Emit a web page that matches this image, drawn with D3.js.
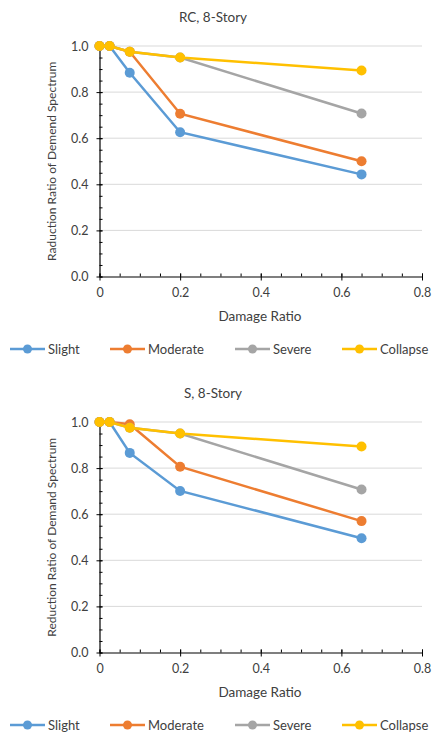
<!DOCTYPE html>
<html>
<head>
<meta charset="utf-8">
<script src="https://cdn.jsdelivr.net/npm/d3@7/dist/d3.min.js"></script>
<style>
  body { margin: 0; background: #fff; }
  text { font-family: Lato, "Open Sans", sans-serif; fill: #404040; }
</style>
</head>
<body>
<div id="chart"></div>
<script>
var w = 432,
	h = 733;

// damage ratio (x)
var damageRatio = [0, 0.025, 0.075, 0.2, 0.65];

var seriesNames = ["Slight", "Moderate", "Severe", "Collapse"];
var seriesColors = ["#5b9bd5", "#ed7d31", "#a5a5a5", "#ffc000"];

// RC, 8-Story
var rcSlight   = [1.0, 1.0, 0.884, 0.626, 0.443];
var rcModerate = [1.0, 1.0, 0.975, 0.706, 0.500];
var rcSevere   = [1.0, 1.0, 0.975, 0.950, 0.707];
var rcCollapse = [1.0, 1.0, 0.975, 0.950, 0.894];

// S, 8-Story
var sSlight   = [1.0, 1.0, 0.866, 0.701, 0.496];
var sModerate = [1.0, 1.0, 0.990, 0.806, 0.570];
var sSevere   = [1.0, 1.0, 0.975, 0.950, 0.707];
var sCollapse = [1.0, 1.0, 0.975, 0.950, 0.894];

var xTicks = [0, 0.2, 0.4, 0.6, 0.8];
var yTicks = [0, 0.2, 0.4, 0.6, 0.8, 1.0];

var charts = [
	{title: "RC, 8-Story", ylabel: "Raduction Ratio of Demend Spectrum",
	 series: [rcSlight, rcModerate, rcSevere, rcCollapse], top: 0},
	{title: "S, 8-Story", ylabel: "Reduction Ratio of Demand Spectrum",
	 series: [sSlight, sModerate, sSevere, sCollapse], top: 376}
];

var svg = d3.select("#chart").append("svg")
	.attr("width", w)
	.attr("height", h);

var x = d3.scaleLinear().domain([0, 0.8]).range([99.5, 422]);

charts.forEach(function(c) {
	var g = svg.append("g").attr("transform", "translate(0," + c.top + ")");
	var y = d3.scaleLinear().domain([0, 1]).range([276.5, 46]);

	// title
	g.append("text")
		.attr("x", 213)
		.attr("y", 22)
		.attr("text-anchor", "middle")
		.attr("font-size", "13.5px")
		.text(c.title);

	// gridlines
	g.selectAll(".grid")
		.data(yTicks.slice(1))
		.enter().append("line")
		.attr("x1", x(0)).attr("x2", x(0.8))
		.attr("y1", function(d) { return y(d); })
		.attr("y2", function(d) { return y(d); })
		.attr("stroke", "#d9d9d9")
		.attr("stroke-width", 1);

	// minor ticks
	g.append("g")
		.attr("transform", "translate(" + x(0) + ",0)")
		.call(d3.axisRight(y).ticks(25).tickSize(3).tickFormat(""))
		.call(function(a) { a.select(".domain").remove(); a.selectAll("line").attr("stroke", "#000"); });
	g.append("g")
		.attr("transform", "translate(0," + y(0) + ")")
		.call(d3.axisTop(x).ticks(20).tickSize(3).tickFormat(""))
		.call(function(a) { a.select(".domain").remove(); a.selectAll("line").attr("stroke", "#000"); });

	// y axis
	var yAxis = g.append("g")
		.attr("transform", "translate(" + x(0) + ",0)")
		.call(d3.axisLeft(y).tickValues(yTicks).tickSizeInner(3).tickSizeOuter(0).tickPadding(8)
			.tickFormat(d3.format(".1f")));
	yAxis.selectAll("line").attr("x2", 3).attr("x1", -3).attr("stroke", "#000");
	yAxis.select(".domain").attr("stroke", "#000").attr("stroke-width", 1.2);
	yAxis.selectAll("text").attr("font-size", "12.5px").style("font-family", "Lato, sans-serif").attr("fill", "#404040");

	// x axis
	var xAxis = g.append("g")
		.attr("transform", "translate(0," + y(0) + ")")
		.call(d3.axisBottom(x).tickValues(xTicks).tickSizeInner(3).tickSizeOuter(0).tickPadding(9)
			.tickFormat(function(d) { return d === 0 ? "0" : d3.format(".1f")(d); }));
	xAxis.selectAll("line").attr("y1", -3).attr("y2", 4).attr("stroke", "#000");
	xAxis.select(".domain").attr("stroke", "#000").attr("stroke-width", 1.2);
	xAxis.selectAll("text").attr("font-size", "12.5px").style("font-family", "Lato, sans-serif").attr("fill", "#404040");

	// axis labels
	g.append("text")
		.attr("x", 260)
		.attr("y", 321)
		.attr("text-anchor", "middle")
		.attr("font-size", "13.5px")
		.text("Damage Ratio");
	g.append("text")
		.attr("transform", "translate(56," + ((y(0) + y(1)) / 2) + ") rotate(-90)")
		.attr("text-anchor", "middle")
		.attr("font-size", "12px")
		.text(c.ylabel);

	// lines and markers
	var line = d3.line()
		.x(function(d, i) { return x(damageRatio[i]); })
		.y(function(d) { return y(d); });

	c.series.forEach(function(s, k) {
		g.append("path")
			.datum(s)
			.attr("d", line)
			.attr("fill", "none")
			.attr("stroke", seriesColors[k])
			.attr("stroke-width", 2.5);
		g.selectAll(".pt" + k)
			.data(s)
			.enter().append("circle")
			.attr("cx", function(d, i) { return x(damageRatio[i]); })
			.attr("cy", function(d) { return y(d); })
			.attr("r", 5)
			.attr("fill", seriesColors[k]);
	});

	// legend
	var lx = [10, 110, 235, 342];
	var legend = g.append("g").attr("transform", "translate(0,349)");
	seriesNames.forEach(function(n, k) {
		legend.append("line")
			.attr("x1", lx[k]).attr("x2", lx[k] + 35)
			.attr("y1", 0).attr("y2", 0)
			.attr("stroke", seriesColors[k])
			.attr("stroke-width", 2.5);
		legend.append("circle")
			.attr("cx", lx[k] + 17.5).attr("cy", 0)
			.attr("r", 4.5)
			.attr("fill", seriesColors[k]);
		legend.append("text")
			.attr("x", lx[k] + 38)
			.attr("y", 4.5)
			.attr("font-size", "13px")
			.text(n);
	});
});
</script>
</body>
</html>
